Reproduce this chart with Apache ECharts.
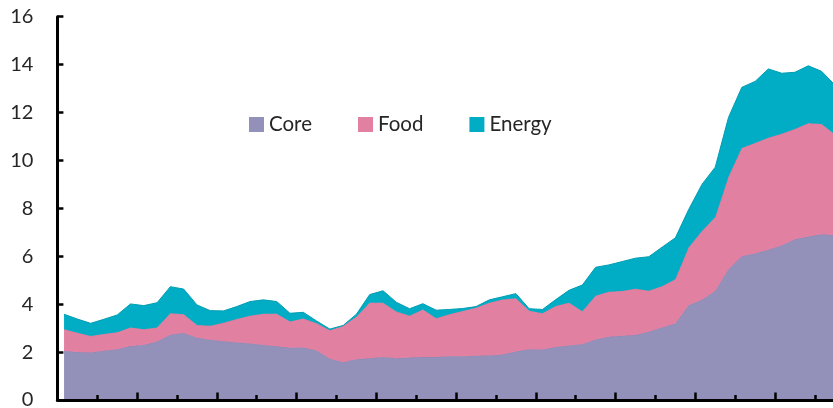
<!DOCTYPE html>
<html>
<head>
<meta charset="utf-8">
<script src="https://cdn.jsdelivr.net/npm/echarts@6/dist/echarts.min.js"></script>
<style>
html,body{margin:0;padding:0;background:#fff;}
#chart{width:833px;height:408px;}
</style>
</head>
<body>
<div id="chart"></div>
<script>
// Monthly periods (no tick labels in the original)
const categories = Array.from({length: 59}, (_, i) => 'P' + (i + 1));

const seriesNames = ['Core', 'Food', 'Energy'];

const core = [2.05,2.00,1.98,2.06,2.12,2.25,2.30,2.44,2.72,2.80,
              2.60,2.52,2.45,2.40,2.36,2.30,2.24,2.18,2.19,2.07,
              1.72,1.58,1.70,1.74,1.80,1.74,1.77,1.79,1.80,1.83,
              1.83,1.85,1.86,1.90,2.02,2.12,2.11,2.21,2.28,2.33,
              2.53,2.64,2.68,2.71,2.85,3.03,3.19,3.95,4.18,4.55,
              5.46,6.00,6.12,6.27,6.45,6.71,6.82,6.92,6.88];

const food = [0.90,0.81,0.69,0.70,0.71,0.78,0.65,0.59,0.90,0.78,
              0.53,0.58,0.77,0.98,1.16,1.30,1.36,1.10,1.21,1.13,
              1.19,1.51,1.78,2.32,2.26,1.95,1.75,1.99,1.61,1.75,
              1.89,2.00,2.20,2.29,2.23,1.61,1.51,1.71,1.78,1.37,
              1.82,1.88,1.87,1.93,1.71,1.72,1.85,2.42,2.87,3.08,
              3.86,4.52,4.61,4.68,4.66,4.60,4.73,4.60,4.20];

const energy = [0.63,0.57,0.53,0.61,0.72,0.98,0.99,1.03,1.11,1.05,
                0.84,0.63,0.50,0.52,0.59,0.58,0.51,0.34,0.26,0.10,
                0.05,0.02,0.10,0.34,0.50,0.39,0.29,0.24,0.34,0.20,
                0.10,0.05,0.12,0.12,0.19,0.08,0.16,0.27,0.52,1.10,
                1.19,1.12,1.23,1.28,1.42,1.63,1.73,1.58,1.95,2.09,
                2.48,2.53,2.57,2.87,2.53,2.37,2.40,2.20,2.07];

const yMin = 0, yMax = 16, yStep = 2;

const fillColors = ['#9390BA', '#E180A0', '#00ADC5'];
const lineColors = ['#8B86B6', '#D97799', '#009DB3'];
const FONT = 'Lato';

const chart = echarts.init(document.getElementById('chart'), null, {renderer: 'canvas'});

const values = [core, food, energy];

const option = {
  animation: false,
  backgroundColor: '#ffffff',
  textStyle: {fontFamily: FONT},
  legend: {
    data: seriesNames,
    left: 249,
    top: 114,
    padding: 0,
    itemWidth: 15,
    itemHeight: 15,
    itemGap: 46,
    icon: 'rect',
    textStyle: {fontFamily: FONT, fontSize: 20.5, color: '#262626'}
  },
  grid: {left: 57.4, right: -8.5, top: 16.7, bottom: 8, containLabel: false, outerBoundsMode: 'none'},
  xAxis: [
    {
      type: 'category',
      data: categories,
      boundaryGap: true,
      position: 'bottom',
      z: 20,
      axisLine: {show: true, lineStyle: {color: '#000', width: 3}},
      axisTick: {show: true, inside: true, length: 7.5, lineStyle: {color: '#000', width: 2.5},
                 interval: function (idx) { return idx % 6 === 0; }},
      axisLabel: {show: false},
      splitLine: {show: false}
    },
    {
      type: 'category',
      data: categories,
      boundaryGap: true,
      position: 'bottom',
      offset: 0,
      z: 20,
      axisLine: {show: false},
      axisTick: {show: true, inside: true, length: 5, lineStyle: {color: '#000', width: 2.5},
                 interval: function (idx) { return idx % 6 === 3; }},
      axisLabel: {show: false},
      splitLine: {show: false}
    }
  ],
  yAxis: {
    type: 'value',
    min: yMin,
    max: yMax,
    interval: yStep,
    z: 20,
    axisLine: {show: true, lineStyle: {color: '#000', width: 3}},
    axisTick: {show: true, inside: true, length: 6, lineStyle: {color: '#000', width: 2.5}},
    axisLabel: {show: true, margin: 24, fontFamily: FONT, fontSize: 20, color: '#262626'},
    splitLine: {show: false}
  },
  series: seriesNames.map((name, k) => ({
    name: name,
    type: 'line',
    stack: 'total',
    xAxisIndex: 0,
    data: values[k],
    symbol: 'none',
    smooth: false,
    lineStyle: {width: 1, color: lineColors[k]},
    itemStyle: {color: fillColors[k]},
    areaStyle: {color: fillColors[k], opacity: 1},
    z: 2 + k
  }))
};

chart.setOption(option);
</script>
</body>
</html>
